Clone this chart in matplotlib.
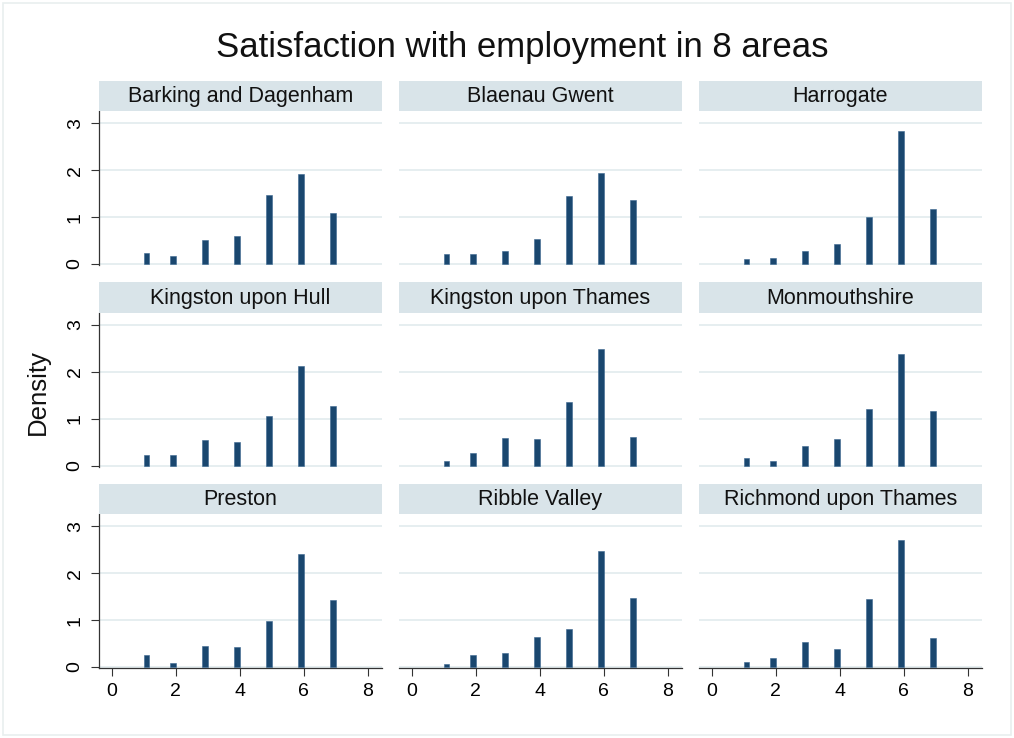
import numpy as np
import matplotlib
matplotlib.use("Agg")
import matplotlib.pyplot as plt
from matplotlib.patches import Rectangle

plt.rcParams['font.family'] = ['Liberation Sans', 'DejaVu Sans']

# ---- data ----
areas = ["Barking and Dagenham", "Blaenau Gwent", "Harrogate",
         "Kingston upon Hull", "Kingston upon Thames", "Monmouthshire",
         "Preston", "Ribble Valley", "Richmond upon Thames"]
scores = [1, 2, 3, 4, 5, 6, 7]
barking = [0.23, 0.18, 0.51, 0.60, 1.47, 1.92, 1.08]
blaenau = [0.22, 0.22, 0.27, 0.53, 1.46, 1.94, 1.37]
harrogate = [0.10, 0.13, 0.28, 0.42, 1.01, 2.84, 1.18]
hull = [0.23, 0.23, 0.55, 0.50, 1.05, 2.11, 1.26]
kingston_thames = [0.10, 0.26, 0.59, 0.57, 1.36, 2.48, 0.60]
monmouthshire = [0.17, 0.09, 0.41, 0.56, 1.21, 2.38, 1.16]
preston = [0.25, 0.08, 0.44, 0.43, 0.99, 2.40, 1.42]
ribble = [0.07, 0.25, 0.29, 0.63, 0.82, 2.48, 1.47]
richmond = [0.11, 0.20, 0.54, 0.38, 1.45, 2.71, 0.62]
densities = [barking, blaenau, harrogate, hull, kingston_thames,
             monmouthshire, preston, ribble, richmond]
x_ticks = [0, 2, 4, 6, 8]
y_ticks = [0, 1, 2, 3]
title = "Satisfaction with employment in 8 areas"
ylabel = "Density"

# histogram bins (Stata-style: 36 bins over [1, 7], right-closed)
nbins = 36
lo, hi = 1, 7
bw = (hi - lo) / nbins


def bin_center(v):
    idx = max(int(round((v - lo) / bw)) - 1, 0)
    return lo + (idx + 0.5) * bw


W, H = 1014, 738
fig = plt.figure(figsize=(W / 100, H / 100), dpi=100)
fig.patch.set_facecolor("white")
fig.add_artist(Rectangle((3 / W, 3 / H), (W - 6) / W, (H - 6) / H,
                         transform=fig.transFigure, fill=False,
                         edgecolor="#e9efef", linewidth=1.2))

navy = "#1a476f"
grid_c = "#e6eef0"
strip_c = "#d9e4e9"

col_left = [99, 399, 699]
ax_w = 283
row_top = [111, 312.5, 514]
ax_h = 154
strip_h = 30.5

for i, (name, dens) in enumerate(zip(areas, densities)):
    r, c = divmod(i, 3)
    left = col_left[c]
    top = row_top[r]
    ax = fig.add_axes([left / W, 1 - (top + ax_h) / H, ax_w / W, ax_h / H])
    sax = fig.add_axes([left / W, 1 - top / H, ax_w / W, strip_h / H])
    sax.set_facecolor(strip_c)
    sax.set_xticks([]); sax.set_yticks([])
    for s in sax.spines.values():
        s.set_visible(False)
    sax.text(0.5, 0.47, name, ha="center", va="center", fontsize=15.5,
             color="#111111", transform=sax.transAxes)

    centers = [bin_center(v) for v in scores]
    ax.bar(centers, dens, width=bw, color=navy, edgecolor="#3a6690",
           linewidth=0.4, zorder=3)
    ax.set_xlim(-0.40, 8.45)
    ax.set_ylim(-0.02, 3.26)
    for yv in y_ticks:
        ax.axhline(yv, color=grid_c, linewidth=1.4, zorder=1)
    for s in ax.spines.values():
        s.set_visible(False)
    ax.set_xticks(x_ticks)
    ax.set_yticks(y_ticks)
    ax.tick_params(axis="both", length=6, width=0.8, color="#333333",
                   labelsize=14, direction="out")
    ax.tick_params(axis="y", pad=5)
    ax.tick_params(axis="x", pad=5)
    if c == 0:
        ax.spines["left"].set_visible(True)
        ax.spines["left"].set_color("#333333")
        ax.spines["left"].set_linewidth(0.9)
        ax.spines["left"].set_bounds(-0.02, 3.26)
        for lab in ax.get_yticklabels():
            lab.set_rotation(90)
            lab.set_va("center")
    else:
        ax.tick_params(axis="y", left=False, labelleft=False)
    if r == 2:
        ax.spines["bottom"].set_visible(True)
        ax.spines["bottom"].set_color("#333333")
        ax.spines["bottom"].set_linewidth(0.9)
    else:
        ax.tick_params(axis="x", bottom=False, labelbottom=False)

fig.text(522 / W, 1 - 48 / H, title, ha="center", va="center", fontsize=25,
         color="#111111")
fig.text(38 / W, 1 - 392 / H, ylabel, ha="center", va="center", fontsize=18.5,
         rotation=90, color="#111111")

fig.savefig("out.png", dpi=100, facecolor="white")
